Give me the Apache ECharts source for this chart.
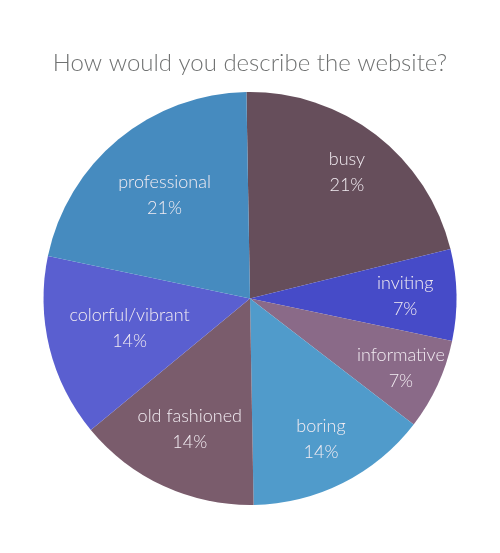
<!DOCTYPE html>
<html><head><meta charset="utf-8">
<script src="https://cdn.jsdelivr.net/npm/echarts@6/dist/echarts.min.js"></script>
<style>html,body{margin:0;padding:0;background:#fff}#c{width:500px;height:553px}</style>
</head><body><div id="c"></div>
<script>
const categories = ['busy','inviting','informative','boring','old fashioned','colorful/vibrant','professional'];
const counts = [3,1,1,2,2,2,3];
const percentLabels = ['21%','7%','7%','14%','14%','14%','21%'];

// styling (not data)
const colors = ['#664e5b','#464bc8','#8a6a88','#509bcb','#7a5c6c','#5a5fd0','#468bbf'];
const labelRadiusFrac = [0.755,0.737,0.79,0.75,0.683,0.586,0.635];

const center = [250, 298.5];
const R = 206.5;
const base = categories.map((name,i)=>({name, value: counts[i], pct: percentLabels[i]}));

const series = [{
  type:'pie', center, radius:[0,R], startAngle:91, clockwise:true, silent:true,
  data: base.map((d,i)=>({name:d.name, value:d.value, itemStyle:{color:colors[i]}})),
  label:{show:false}, labelLine:{show:false}, itemStyle:{borderWidth:0}
}];
categories.forEach((c,k)=>{
  const mid = labelRadiusFrac[k]*R;
  series.push({
    type:'pie', center, radius:[2*mid-R, R], startAngle:91, clockwise:true, silent:true,
    data: base.map((d,i)=>({name:d.name, value:d.value, pct:d.pct,
      itemStyle:{color:'rgba(0,0,0,0)'}, label:{show:i===k}})),
    label:{position:'inside', formatter:p=>p.name+'\n'+p.data.pct,
      fontFamily:'Lato', fontWeight:300, fontSize:18, lineHeight:26, color:'#f2ecf2'},
    labelLine:{show:false}, itemStyle:{borderWidth:0}
  });
});

const chart = echarts.init(document.getElementById('c'), null, {renderer:'canvas'});
chart.setOption({
  animation:false,
  title:{text:'How would you describe the website?', left:'center', top:46,
    textStyle:{fontFamily:'Lato', fontWeight:300, fontSize:24, color:'#707272'}},
  series
});
</script></body></html>
